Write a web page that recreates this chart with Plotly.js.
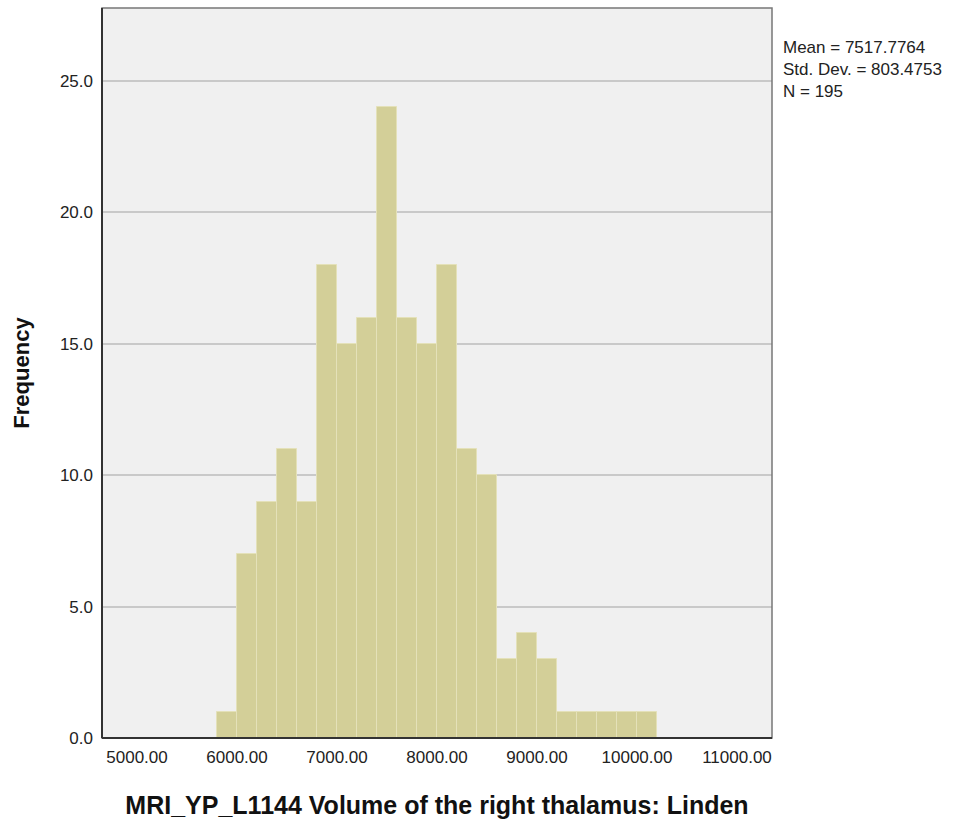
<!DOCTYPE html>
<html><head><meta charset="utf-8">
<script src="https://cdn.plot.ly/plotly-3.0.1.min.js"></script>
<style>body{margin:0;background:#fff}#c{width:958px;height:823px}</style>
</head><body><div id="c"></div>
<script>
const binCenters = [5900,6100,6300,6500,6700,6900,7100,7300,7500,7700,7900,8100,8300,8500,8700,8900,9100,9300,9500,9700,9900,10100];
const counts = [1,7,9,11,9,18,15,16,24,16,15,18,11,10,3,4,3,1,1,1,1,1];
const binWidth = 200;
const xTicks = [5000,6000,7000,8000,9000,10000,11000];
const yTicks = [0,5,10,15,20,25];
const statsLines = ["Mean = 7517.7764","Std. Dev. = 803.4753","N = 195"];
const xTitle = "MRI_YP_L1144 Volume of the right thalamus: Linden";
const yTitle = "Frequency";

const trace = {
  type:'bar', x:binCenters, y:counts, width:binWidth,
  marker:{color:'#d3cf98', line:{color:'#e4e1b9', width:1}},
  hoverinfo:'x+y'
};
const layout = {
  width:958, height:823,
  margin:{l:102, r:186, t:8, b:85},
  paper_bgcolor:'#ffffff', plot_bgcolor:'#f0f0f0',
  font:{family:'Liberation Sans, Arial, sans-serif', size:17, color:'#222'},
  showlegend:false, bargap:0,
  xaxis:{range:[4650,11350], tickvals:xTicks, ticktext:xTicks.map(v=>v.toFixed(2)),
    showgrid:false, zeroline:false, ticks:'', tickfont:{size:17,color:'#222'}, ticklabelstandoff:7,
    title:{text:xTitle, font:{size:25, color:'#111', weight:'bold'}, standoff:30}},
  yaxis:{range:[0,27.78], tickvals:yTicks, ticktext:yTicks.map(v=>v.toFixed(1)),
    showgrid:true, gridcolor:'#c9c9c9', gridwidth:1.5, zeroline:false, ticks:'',
    tickfont:{size:17,color:'#222'}, ticklabelstandoff:8,
    title:{text:yTitle, font:{size:22, color:'#111', weight:'bold'}, standoff:24}},
  shapes:[
    {type:'rect', xref:'paper', yref:'paper', x0:0, x1:1, y0:0, y1:1, line:{color:'#777', width:1.5}, fillcolor:'rgba(0,0,0,0)'},
    {type:'line', xref:'paper', yref:'paper', x0:0, x1:1, y0:0, y1:0, line:{color:'#333', width:2}},
    {type:'line', xref:'paper', yref:'paper', x0:0, x1:0, y0:0, y1:1, line:{color:'#333', width:2}}
  ],
  annotations:[{xref:'paper', yref:'paper', x:1.013, y:0.9153, xanchor:'left', yanchor:'middle', align:'left',
    showarrow:false, text:statsLines.join('<br>'), font:{size:17,color:'#222'}}]
};
Plotly.newPlot('c',[trace],layout,{displayModeBar:false});
</script></body></html>
